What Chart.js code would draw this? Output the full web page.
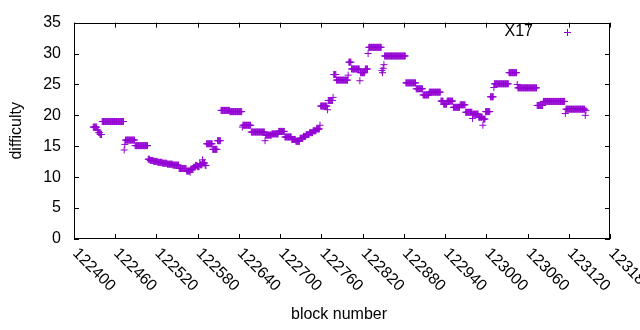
<!DOCTYPE html>
<html>
<head>
<meta charset="utf-8">
<script src="https://cdn.jsdelivr.net/npm/chart.js@4.4.0/dist/chart.umd.min.js"></script>
<style>
  html, body { margin: 0; padding: 0; background: #fff; }
</style>
</head>
<body>
<canvas id="myChart" width="640" height="330"></canvas>
<script>
// difficulty per block, as runs of equal value (first block, last block, value)
var runStart = [122428,122434,122436,122438,122441,122473,122474,122475,122489,122508,
  122511,122516,122522,122529,122536,122544,122553,122564,122569,122570,
  122574,122577,122580,122583,122584,122587,122588,122591,122593,122602,
  122609,122614,122627,122645,122646,122658,122678,122679,122688,122698,
  122707,122717,122723,122729,122734,122738,122743,122748,122753,122758,
  122759,122769,122770,122777,122778,122782,122799,122800,122804,122816,
  122817,122824,122828,122829,122848,122849,122850,122851,122852,122883,
  122898,122908,122917,122934,122938,122943,122952,122962,122970,122980,
  122981,122989,122995,122996,122999,123006,123011,123012,123033,123045,
  123046,123074,123083,123115,123116,123144,123145];
var runEnd = [122433,122435,122437,122440,122472,122473,122474,122488,122507,122510,
  122515,122521,122528,122535,122543,122552,122563,122568,122569,122573,
  122576,122579,122582,122583,122586,122587,122590,122592,122601,122608,
  122613,122626,122644,122645,122657,122677,122678,122687,122697,122706,
  122716,122722,122728,122733,122737,122742,122747,122752,122757,122758,
  122768,122769,122776,122777,122781,122798,122799,122803,122815,122816,
  122823,122827,122828,122847,122848,122849,122850,122851,122882,122897,
  122907,122916,122933,122937,122942,122951,122961,122969,122979,122980,
  122988,122994,122995,122998,123005,123010,123011,123032,123044,123045,
  123073,123082,123114,123115,123143,123144,123145];
var runValue = [18.1,17.6,17.2,16.9,19.0,14.4,15.3,16.0,15.1,12.9,
  12.7,12.55,12.4,12.25,12.1,11.95,11.4,11.0,10.8,11.3,
  11.6,11.9,11.7,12.2,12.0,12.8,12.3,11.9,15.4,14.5,
  15.9,20.8,20.6,18.1,18.4,17.3,15.9,16.8,17.0,17.4,
  16.5,16.1,15.8,16.3,16.6,16.9,17.2,17.5,17.8,18.4,
  21.5,20.9,22.4,22.9,26.6,25.7,26.5,28.6,27.5,25.6,
  26.9,27.5,30.0,31.0,27.25,26.9,27.6,28.2,29.6,25.25,
  24.3,23.3,23.75,22.3,21.8,22.3,21.3,21.7,20.5,19.5,
  20.2,19.7,18.4,19.4,20.6,23.0,24.5,25.1,26.9,25.0,
  24.45,21.6,22.25,20.3,21.0,20.0,20.8];

var xTickLabels = [122400,122460,122520,122580,122640,122700,122760,122820,122880,122940,123000,123060,123120,123180];
var yTickLabels = [0,5,10,15,20,25,30,35];

var FONT = "'Liberation Sans', Arial, sans-serif";
var PURPLE = '#9400d3';

/**
 * Expand the runs into one point per block
 * return Array of {x, y}
 */
function buildPoints() {
  var pts = [];
  for (var i = 0; i < runStart.length; i++) {
    for (var b = runStart[i]; b <= runEnd[i]; b++) {
      pts.push({ x: b, y: runValue[i] });
    }
  }
  return pts;
}

// border, inward ticks on all sides, rotated x labels, axis titles, key
var gnuplotFrame = {
  id: 'gnuplotFrame',
  afterDraw: function(chart) {
    var ctx = chart.ctx;
    var a = chart.chartArea;
    var xs = chart.scales.x, ys = chart.scales.y;
    ctx.save();
    ctx.strokeStyle = '#000';
    ctx.lineWidth = 1;
    ctx.strokeRect(Math.round(a.left) + 0.5, Math.round(a.top) + 0.5,
      Math.round(a.right - a.left) - 1, Math.round(a.bottom - a.top) - 1);

    ctx.beginPath();
    xTickLabels.forEach(function(v) {
      var px = Math.round(xs.getPixelForValue(v)) + 0.5;
      ctx.moveTo(px, a.bottom); ctx.lineTo(px, a.bottom - 5);
      ctx.moveTo(px, a.top); ctx.lineTo(px, a.top + 5);
    });
    yTickLabels.forEach(function(v) {
      var py = Math.round(ys.getPixelForValue(v)) + 0.5;
      ctx.moveTo(a.left, py); ctx.lineTo(a.left + 5, py);
      ctx.moveTo(a.right, py); ctx.lineTo(a.right - 5, py);
    });
    ctx.stroke();

    ctx.fillStyle = '#000';
    ctx.font = '16px ' + FONT;
    ctx.textAlign = 'left';
    ctx.textBaseline = 'middle';
    xTickLabels.forEach(function(v) {
      var px = xs.getPixelForValue(v);
      ctx.save();
      ctx.translate(px + 1, a.bottom + 12);
      ctx.rotate(Math.PI / 4);
      ctx.fillText(String(v), 0, 0);
      ctx.restore();
    });

    ctx.textAlign = 'center';
    ctx.fillText('block number', 339, 315);
    ctx.save();
    ctx.translate(17, (a.top + a.bottom) / 2);
    ctx.rotate(-Math.PI / 2);
    ctx.fillText('difficulty', 0, 0);
    ctx.restore();

    // key
    ctx.textAlign = 'right';
    ctx.fillText(chart.data.datasets[0].label, 533, 32);
    ctx.strokeStyle = PURPLE;
    ctx.beginPath();
    ctx.moveTo(564, 32.5); ctx.lineTo(571, 32.5);
    ctx.moveTo(567.5, 29); ctx.lineTo(567.5, 36);
    ctx.stroke();
    ctx.restore();
  }
};

function drawChart() {
  var element = document.getElementById('myChart').getContext('2d');
  var myChart = new Chart(element, {
    type: 'scatter',
    data: {
      datasets: [{
        label: 'X17',
        data: buildPoints(),
        pointStyle: 'cross',
        radius: 3.5,
        borderWidth: 1,
        borderColor: PURPLE,
        backgroundColor: PURPLE,
        showLine: false
      }]
    },
    options: {
      responsive: false,
      animation: false,
      devicePixelRatio: 1,
      layout: { padding: { top: 19, right: 30, left: 0, bottom: 0 } },
      plugins: { legend: { display: false }, tooltip: { enabled: false } },
      scales: {
        x: {
          type: 'linear', min: 122400, max: 123180,
          ticks: { display: false },
          grid: { display: false, drawTicks: false },
          border: { display: false },
          afterFit: function(s) { s.height = 91; }
        },
        y: {
          min: 0, max: 35,
          ticks: { stepSize: 5, color: '#000', padding: 13, font: { family: FONT, size: 16 } },
          grid: { display: false, drawTicks: false },
          border: { display: false },
          afterFit: function(s) { s.width = 74; }
        }
      }
    },
    plugins: [gnuplotFrame]
  });
}

drawChart();
</script>
</body>
</html>
